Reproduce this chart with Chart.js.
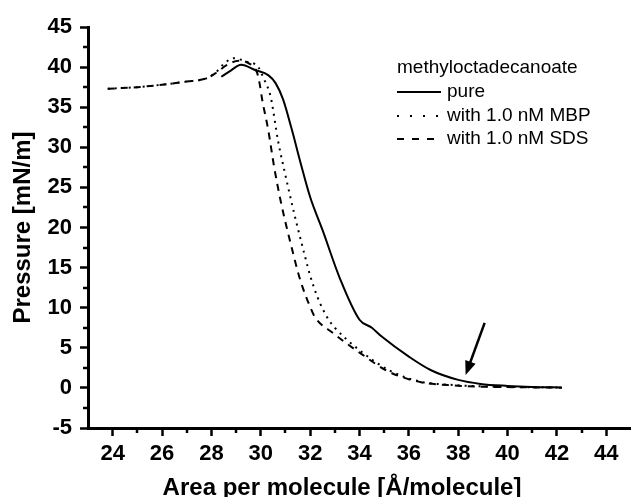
<!DOCTYPE html>
<html>
<head>
<meta charset="utf-8">
<script src="https://cdn.jsdelivr.net/npm/chart.js@4.4.1/dist/chart.umd.min.js"></script>
<style>
  html, body { margin: 0; padding: 0; background: #fff; }
  #wrap { width: 631px; height: 497px; }
</style>
</head>
<body>
<div id="wrap"><canvas id="chart1"></canvas></div>
<script>
// isotherm data (area in Å²/molecule, pressure in mN/m)
const pureX = [28.4, 28.8, 29.2, 29.8, 30.3, 30.6, 30.9, 31.25, 31.6, 32.0, 32.5, 33.2, 34.0, 34.5, 34.9, 36.0, 36.9, 38.0, 38.9, 40.0, 41.0, 42.2];
const pureY = [38.8, 39.6, 40.3, 39.6, 39.0, 38.0, 36.0, 32.3, 28.2, 23.8, 19.7, 13.7, 8.5, 7.5, 6.4, 3.9, 2.2, 1.0, 0.5, 0.25, 0.12, 0.05];

const mbpX = [23.8, 25.0, 26.0, 27.0, 27.8, 28.2, 28.5, 28.9, 29.4, 29.9, 30.1, 30.4, 30.7, 31.0, 31.35, 31.8, 32.0, 32.3, 32.5, 32.75, 33.0, 34.0, 35.2, 36.5, 37.6, 39.0, 40.5, 42.2];
const mbpY = [37.3, 37.5, 37.8, 38.2, 38.6, 39.4, 40.4, 41.1, 40.7, 40.0, 38.7, 36.3, 30.8, 26.5, 21.8, 16.3, 14.0, 11.3, 9.9, 8.5, 7.5, 4.7, 2.2, 0.75, 0.4, 0.2, 0.1, 0.05];

const sdsX = [23.8, 25.0, 26.0, 27.0, 27.8, 28.2, 28.6, 29.1, 29.5, 29.85, 29.95, 30.06, 30.3, 30.55, 30.8, 31.05, 31.3, 31.5, 31.7, 32.0, 32.2, 32.9, 34.0, 35.2, 36.5, 37.6, 39.0, 40.5, 42.2];
const sdsY = [37.3, 37.5, 37.8, 38.2, 38.6, 39.3, 40.2, 40.8, 40.5, 39.3, 38.0, 35.9, 32.2, 27.4, 23.4, 20.0, 16.9, 14.5, 12.5, 10.1, 8.8, 6.9, 4.4, 2.0, 0.7, 0.35, 0.15, 0.08, 0.03];

const xTicks = [24, 26, 28, 30, 32, 34, 36, 38, 40, 42, 44];
const xMinor = [25, 27, 29, 31, 33, 35, 37, 39, 41, 43];
const yTicks = [-5, 0, 5, 10, 15, 20, 25, 30, 35, 40, 45];
const yMinor = [-2.5, 2.5, 7.5, 12.5, 17.5, 22.5, 27.5, 32.5, 37.5, 42.5];

const legendTitle = 'methyloctadecanoate';
const seriesNames = ['pure', 'with 1.0 nM MBP', 'with 1.0 nM SDS'];
const arrowFrom = [39.07, 8.1];
const arrowTo = [38.3, 1.6];

const FONT = '"Liberation Sans", Arial, Helvetica, sans-serif';

function pts(xs, ys) {
    return xs.map((v, i) => ({ x: v, y: ys[i] }));
}

const extras = {
    id: 'extras',
    afterDraw(chart) {
        const ctx = chart.ctx;
        const x = chart.scales.x, y = chart.scales.y;
        ctx.save();
        ctx.strokeStyle = '#000';
        ctx.fillStyle = '#000';

        // minor ticks
        ctx.lineWidth = 2.5;
        xMinor.forEach(v => {
            const px = Math.round(x.getPixelForValue(v));
            ctx.beginPath();
            ctx.moveTo(px, y.bottom);
            ctx.lineTo(px, y.bottom + 5);
            ctx.stroke();
        });
        yMinor.forEach(v => {
            const py = Math.round(y.getPixelForValue(v));
            ctx.beginPath();
            ctx.moveTo(x.left, py);
            ctx.lineTo(x.left - 5, py);
            ctx.stroke();
        });

        // x axis title
        ctx.font = 'bold 24px ' + FONT;
        ctx.textAlign = 'center';
        ctx.textBaseline = 'alphabetic';
        ctx.fillText('Area per molecule [Å/molecule]', 342, 495);

        // arrow
        const x0 = x.getPixelForValue(arrowFrom[0]), y0 = y.getPixelForValue(arrowFrom[1]);
        const x1 = x.getPixelForValue(arrowTo[0]), y1 = y.getPixelForValue(arrowTo[1]);
        const ang = Math.atan2(y1 - y0, x1 - x0);
        const hl = 14, hw = 5.5;
        ctx.lineWidth = 2.5;
        ctx.beginPath();
        ctx.moveTo(x0, y0);
        ctx.lineTo(x1 - Math.cos(ang) * hl * 0.8, y1 - Math.sin(ang) * hl * 0.8);
        ctx.stroke();
        ctx.beginPath();
        ctx.moveTo(x1, y1);
        ctx.lineTo(x1 - Math.cos(ang) * hl + Math.sin(ang) * hw, y1 - Math.sin(ang) * hl - Math.cos(ang) * hw);
        ctx.lineTo(x1 - Math.cos(ang) * hl - Math.sin(ang) * hw, y1 - Math.sin(ang) * hl + Math.cos(ang) * hw);
        ctx.closePath();
        ctx.fill();

        // legend
        ctx.font = '19px ' + FONT;
        ctx.textAlign = 'left';
        ctx.fillText(legendTitle, 397, 73);
        const rows = [97, 121, 144];
        const dashes = [[], [2, 11], [7, 8]];
        ctx.lineWidth = 2;
        rows.forEach((b, i) => {
            ctx.setLineDash(dashes[i]);
            ctx.beginPath();
            ctx.moveTo(397, b - 5);
            ctx.lineTo(441, b - 5);
            ctx.stroke();
            ctx.setLineDash([]);
            ctx.fillText(seriesNames[i], 447, b);
        });
        ctx.restore();
    }
};

new Chart(document.getElementById('chart1').getContext('2d'), {
    type: 'line',
    data: {
        datasets: [{
            label: seriesNames[0],
            data: pts(pureX, pureY),
            borderColor: '#000',
            borderWidth: 2,
            cubicInterpolationMode: 'monotone'
        }, {
            label: seriesNames[1],
            data: pts(mbpX, mbpY),
            borderColor: '#000',
            borderWidth: 2,
            borderDash: [2, 5],
            cubicInterpolationMode: 'monotone'
        }, {
            label: seriesNames[2],
            data: pts(sdsX, sdsY),
            borderColor: '#000',
            borderWidth: 2,
            borderDash: [7, 6],
            cubicInterpolationMode: 'monotone'
        }]
    },
    options: {
        responsive: true,
        maintainAspectRatio: false,
        animation: false,
        elements: { point: { radius: 0 } },
        layout: { padding: { top: 27, right: 0, left: 0, bottom: 0 } },
        plugins: { legend: { display: false }, tooltip: { enabled: false } },
        scales: {
            x: {
                type: 'linear',
                min: 23,
                max: 45,
                afterBuildTicks: s => { s.ticks = xTicks.map(v => ({ value: v })); },
                afterFit: s => { s.height = 69; },
                border: { display: true, color: '#000', width: 3 },
                grid: { drawOnChartArea: false, drawTicks: true, tickLength: 8, tickWidth: 2.5, tickColor: '#000' },
                ticks: { color: '#000', padding: 5, maxRotation: 0, font: { family: FONT, size: 22, weight: 'bold' } }
            },
            y: {
                type: 'linear',
                min: -5,
                max: 45,
                afterBuildTicks: s => { s.ticks = yTicks.map(v => ({ value: v })); },
                afterFit: s => { s.width = 88; },
                border: { display: true, color: '#000', width: 3 },
                grid: { drawOnChartArea: false, drawTicks: true, tickLength: 8, tickWidth: 2.5, tickColor: '#000' },
                ticks: { color: '#000', padding: 8, font: { family: FONT, size: 22, weight: 'bold' } },
                title: {
                    display: true,
                    text: 'Pressure [mN/m]',
                    color: '#000',
                    padding: { top: 9, bottom: 0 },
                    font: { family: FONT, size: 24, weight: 'bold' }
                }
            }
        }
    },
    plugins: [extras]
});
</script>
</body>
</html>
